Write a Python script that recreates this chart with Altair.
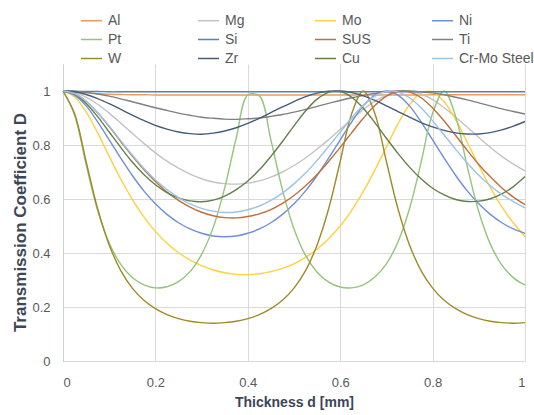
import altair as alt
import pandas as pd

thickness = [0, 0.025, 0.05, 0.075, 0.1, 0.125, 0.15, 0.175, 0.2, 0.225,
             0.25, 0.275, 0.3, 0.325, 0.35, 0.375, 0.4, 0.425, 0.45, 0.475,
             0.5, 0.525, 0.55, 0.575, 0.6, 0.625, 0.65, 0.675, 0.7, 0.725,
             0.75, 0.775, 0.8, 0.825, 0.85, 0.875, 0.9, 0.925, 0.95, 0.975, 1.0]

series = ["Al", "Mg", "Mo", "Ni", "Pt", "Si", "SUS", "Ti", "W", "Zr", "Cu", "Cr-Mo Steel"]
colors = ["#EE9A5A", "#C3C3C3", "#FFD040", "#6F8FD8", "#94C47D", "#4E86B8",
          "#BF6F3A", "#808080", "#A08A28", "#465C7C", "#61804A", "#9DC3E6"]

al = [1.000, 0.997, 0.993, 0.990, 0.988, 0.987, 0.986, 0.986, 0.985, 0.985,
      0.985, 0.985, 0.985, 0.985, 0.985, 0.985, 0.985, 0.985, 0.985, 0.985,
      0.985, 0.985, 0.985, 0.985, 0.985, 0.985, 0.985, 0.985, 0.985, 0.985,
      0.985, 0.985, 0.986, 0.986, 0.986, 0.986, 0.986, 0.986, 0.986, 0.986, 0.986]
mg = [1.000, 0.994, 0.977, 0.951, 0.918, 0.881, 0.843, 0.806, 0.771, 0.740,
      0.714, 0.692, 0.675, 0.663, 0.657, 0.655, 0.659, 0.667, 0.681, 0.700,
      0.724, 0.752, 0.785, 0.820, 0.858, 0.896, 0.932, 0.962, 0.985, 0.998,
      0.999, 0.989, 0.968, 0.938, 0.903, 0.866, 0.828, 0.791, 0.758, 0.729, 0.704]
mo = [1.000, 0.979, 0.923, 0.845, 0.758, 0.674, 0.599, 0.534, 0.480, 0.436,
      0.401, 0.374, 0.353, 0.337, 0.327, 0.321, 0.320, 0.323, 0.331, 0.343,
      0.360, 0.384, 0.414, 0.453, 0.500, 0.558, 0.628, 0.707, 0.793, 0.878,
      0.949, 0.993, 0.997, 0.960, 0.894, 0.810, 0.724, 0.643, 0.571, 0.511, 0.461]
ni = [1.000, 0.985, 0.945, 0.886, 0.819, 0.751, 0.687, 0.630, 0.582, 0.543,
      0.512, 0.489, 0.473, 0.463, 0.460, 0.463, 0.473, 0.489, 0.512, 0.543,
      0.582, 0.630, 0.687, 0.751, 0.819, 0.886, 0.945, 0.985, 1.000, 0.985,
      0.945, 0.886, 0.819, 0.751, 0.687, 0.630, 0.582, 0.543, 0.512, 0.489, 0.473]
pt = [1.000, 0.911, 0.728, 0.558, 0.437, 0.358, 0.309, 0.282, 0.271, 0.275,
      0.294, 0.331, 0.395, 0.494, 0.641, 0.827, 0.985, 0.982, 0.819, 0.634,
      0.489, 0.391, 0.329, 0.292, 0.274, 0.271, 0.282, 0.311, 0.360, 0.441,
      0.564, 0.735, 0.918, 1.000, 0.905, 0.720, 0.553, 0.433, 0.355, 0.308, 0.281]
si = [1.000, 0.999, 0.998, 0.998, 0.997, 0.997, 0.997, 0.997, 0.997, 0.997,
      0.997, 0.997, 0.997, 0.997, 0.997, 0.997, 0.997, 0.997, 0.997, 0.997,
      0.997, 0.997, 0.997, 0.997, 0.997, 0.997, 0.997, 0.997, 0.997, 0.997,
      0.997, 0.997, 0.997, 0.997, 0.997, 0.997, 0.997, 0.997, 0.997, 0.997, 0.997]
sus = [1.000, 0.990, 0.962, 0.919, 0.868, 0.813, 0.759, 0.709, 0.665, 0.626,
       0.595, 0.570, 0.551, 0.538, 0.531, 0.530, 0.535, 0.545, 0.561, 0.584,
       0.613, 0.649, 0.691, 0.739, 0.791, 0.846, 0.899, 0.946, 0.981, 0.998,
       0.996, 0.975, 0.937, 0.889, 0.835, 0.780, 0.728, 0.682, 0.641, 0.607, 0.579]
ti = [1.000, 0.999, 0.995, 0.989, 0.981, 0.971, 0.960, 0.949, 0.938, 0.928,
      0.918, 0.910, 0.903, 0.899, 0.896, 0.895, 0.897, 0.900, 0.906, 0.913,
      0.922, 0.932, 0.943, 0.954, 0.965, 0.975, 0.984, 0.991, 0.997, 1.000,
      1.000, 0.997, 0.993, 0.986, 0.977, 0.967, 0.956, 0.945, 0.934, 0.924, 0.915]
w = [1.000, 0.917, 0.739, 0.564, 0.430, 0.335, 0.270, 0.225, 0.194, 0.172,
     0.157, 0.147, 0.142, 0.140, 0.142, 0.147, 0.157, 0.172, 0.194, 0.225,
     0.270, 0.335, 0.430, 0.564, 0.739, 0.917, 1.000, 0.917, 0.739, 0.564,
     0.430, 0.335, 0.270, 0.225, 0.194, 0.172, 0.157, 0.147, 0.142, 0.140, 0.142]
zr = [1.000, 0.997, 0.987, 0.972, 0.953, 0.932, 0.911, 0.891, 0.873, 0.859,
      0.848, 0.842, 0.840, 0.844, 0.852, 0.864, 0.880, 0.899, 0.920, 0.941,
      0.961, 0.979, 0.992, 0.999, 1.000, 0.994, 0.982, 0.965, 0.945, 0.924,
      0.903, 0.883, 0.867, 0.854, 0.845, 0.841, 0.841, 0.846, 0.856, 0.870, 0.887]
cu = [1.000, 0.988, 0.954, 0.905, 0.848, 0.791, 0.737, 0.691, 0.653, 0.624,
      0.604, 0.593, 0.590, 0.596, 0.611, 0.635, 0.667, 0.708, 0.758, 0.813,
      0.871, 0.926, 0.970, 0.995, 0.998, 0.977, 0.936, 0.883, 0.825, 0.769,
      0.718, 0.675, 0.640, 0.615, 0.598, 0.591, 0.592, 0.601, 0.619, 0.646, 0.683]
crmo = [1.000, 0.990, 0.962, 0.920, 0.870, 0.816, 0.763, 0.714, 0.671, 0.635,
        0.605, 0.582, 0.565, 0.555, 0.550, 0.552, 0.560, 0.574, 0.595, 0.622,
        0.656, 0.696, 0.743, 0.795, 0.848, 0.901, 0.947, 0.981, 0.998, 0.996,
        0.975, 0.938, 0.890, 0.837, 0.784, 0.733, 0.688, 0.649, 0.616, 0.590, 0.567]

values = [al, mg, mo, ni, pt, si, sus, ti, w, zr, cu, crmo]

rows = []
for name, vals in zip(series, values):
    for d, v in zip(thickness, vals):
        rows.append({"Material": name, "d": d, "D": v})
df = pd.DataFrame(rows)

TITLE_COLOR = "#3B4656"
LABEL_COLOR = "#595959"
GRID = "#D9D9D9"

chart = alt.Chart(df).mark_line(strokeWidth=1.4, interpolate="catmull-rom").encode(
    x=alt.X("d:Q",
            scale=alt.Scale(domain=[0, 1], nice=False, zero=False),
            axis=alt.Axis(values=[0, 0.2, 0.4, 0.6, 0.8, 1], format="~g",
                          grid=True, gridColor=GRID, domainColor=GRID,
                          ticks=False, tickSize=0, labelPadding=15,
                          labelFontSize=13, labelColor=LABEL_COLOR,
                          title="Thickness d [mm]", titleFontSize=14,
                          titleFontWeight="bold", titleColor=TITLE_COLOR,
                          titleX=231, titleY=45, titleBaseline="alphabetic")),
    y=alt.Y("D:Q",
            scale=alt.Scale(domain=[0, 1.1], nice=False, zero=True),
            axis=alt.Axis(values=[0, 0.2, 0.4, 0.6, 0.8, 1], format="~g",
                          grid=True, gridColor=GRID, domainColor="#C8D0DA",
                          ticks=False, tickSize=0, labelPadding=13,
                          labelFontSize=13, labelColor=LABEL_COLOR,
                          title="Transmission Coefficient D", titleFontSize=17,
                          titleFontWeight="bold", titleColor=TITLE_COLOR,
                          titleAngle=270, titleX=-38, titleY=158,
                          titleBaseline="alphabetic", titleAlign="center")),
    color=alt.Color("Material:N",
                    scale=alt.Scale(domain=series, range=colors),
                    sort=series,
                    legend=alt.Legend(title=None, orient="none", legendX=17, legendY=-55,
                                      direction="horizontal",
                                      columns=4, gridAlign="all", columnPadding=12,
                                      rowPadding=-1.5, symbolType="stroke",
                                      symbolSize=441, symbolStrokeWidth=1.5,
                                      labelFontSize=14, labelColor=LABEL_COLOR,
                                      labelOffset=5)),
).properties(
    width=462, height=297,
    autosize=alt.AutoSizeParams(type="none"),
    padding={"left": 63, "top": 64, "right": 9, "bottom": 54},
).configure(
    font="Liberation Sans",
).configure_view(
    stroke=None,
)

chart.save("out.html", embed_options={"renderer": "svg", "actions": False})
